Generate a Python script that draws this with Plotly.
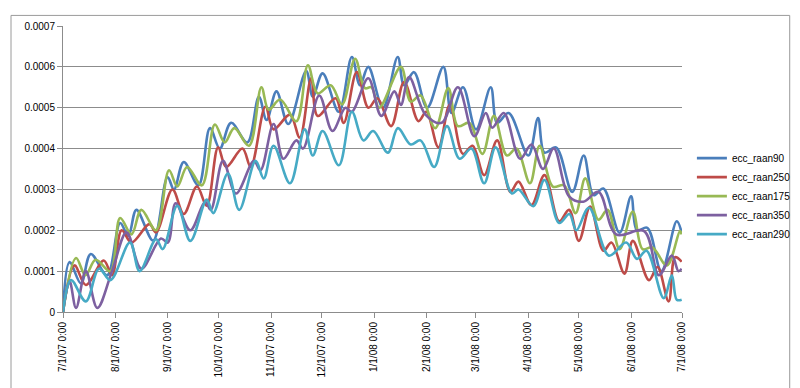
import plotly.graph_objects as go
import pandas as pd

# ---- data (day offsets from 2007-07-01, values in units of 1e-4) ----
blue_days = [0,3.9,10.6,16.4,26.1,33.8,38.6,43.4,53.3,61.8,65.6,71.4,80.1,86.9,92.7,99.4,109,115.8,120.4,126.2,
             133.2,143.8,147.7,153.5,163.1,170.8,175.6,180.5,189.2,197.9,201.7,207.5,215.3,224.9,229.7,236.5,244.2,
             252.9,256.7,263.5,275.1,280.9,284.7,291.5,301.1,307.9,313.7,319.5,329.1,335.9,339.4,345.5,353.8,362.9,365.8]
blue_vals = [0,1.22,0.70,1.42,0.90,2.18,1.86,2.50,1.75,3.30,3.00,3.67,3.10,4.50,4.00,4.63,4.15,5.27,4.70,5.40,
             4.60,5.90,5.27,5.84,4.90,6.24,5.55,6.00,5.00,6.24,5.55,5.87,5.00,6.00,4.87,5.50,4.47,
             5.50,4.63,4.87,3.83,4.75,3.90,4.03,2.94,3.83,2.86,3.02,1.94,2.83,2.00,2.06,1.00,2.22,1.94]

red_days = [0,6.8,13.5,24.1,29,34.7,40.5,51.1,55,64.7,71.4,79.2,85,91.7,96.5,106.1,111,119.7,124.5,134.2,
            140,146.7,150.6,161.2,166,173.7,180.6,185.9,194,201.7,210.2,214.8,222,228.7,236.5,242.2,249,256.7,
            264.5,269.3,277,284.7,293.4,299.2,305,311.7,319.5,324.3,332,336.9,346.5,351.5,358.1,361.9,365.8]
red_vals = [0,1.14,0.66,1.26,0.90,2.00,1.70,2.15,1.95,3.00,2.40,3.07,2.60,4.03,3.55,4.00,3.55,5.03,4.47,4.83,
            4.27,5.72,4.80,5.23,4.63,5.87,5.00,5.23,4.55,5.63,4.67,4.90,4.03,5.07,3.87,4.07,3.35,4.20,
            2.94,3.19,2.62,3.35,2.22,2.50,1.74,2.58,1.50,1.70,0.94,1.74,0.78,1.10,0.26,1.34,1.23]

green_days = [0,7.7,13.3,19.3,28,33.8,40.5,46.3,55,62.7,67.6,73.4,82.1,89.8,95.6,101.3,110,117.3,121.6,128.4,
              138,144.8,150.6,158.3,165,172.7,178.5,182.4,187,199.8,205.6,211.4,220.1,227.8,233.5,240.3,248,
              254.8,262.5,268.1,276.1,281.8,289.6,296.3,303.1,308.8,316.6,322,329.1,336.9,342.7,348.5,357.1,364.8,365.8]
green_vals = [0,1.32,0.90,1.28,1.00,2.30,1.90,2.50,2.00,3.47,3.07,3.55,3.10,4.59,4.15,4.50,4.07,5.50,4.95,5.20,
              4.67,6.04,5.35,5.55,5.08,6.20,5.48,5.50,5.00,6.00,5.15,5.30,4.50,5.48,4.55,4.63,3.87,
              4.80,3.83,4.00,3.15,4.07,3.07,3.10,2.42,3.27,2.26,2.50,1.54,2.46,1.54,1.58,1.14,1.98,1.90]

purple_days = [0,3.9,7.7,13.5,20.3,29,37.6,46.3,57.9,62,66.6,75.3,84,87.4,94.6,102.3,112.9,116.8,124.5,130.3,
               138,141.9,151.5,159.3,167,170.8,180.5,188.2,195.9,199.8,204.6,214.3,223.9,233.5,243.2,250,253.8,
               260.6,270.3,277,283.8,290.2,299.2,307.6,316.6,327.1,343.6,352.3,360,363.9,365.8]
purple_vals = [0,0.75,0.10,1.00,0.10,1.00,1.95,1.06,1.80,1.70,2.66,2.00,2.70,2.50,3.70,2.90,3.70,3.47,4.60,3.75,
               4.20,4.00,5.30,4.43,5.00,4.90,5.72,4.80,5.40,5.07,5.75,4.83,4.63,5.50,4.30,4.87,4.51,
               4.87,3.75,4.10,3.50,4.00,2.83,2.70,2.94,1.90,1.98,0.90,1.38,1.00,1.06]

cyan_days = [0,4.8,13.5,21.3,28,39.6,45.3,55,58.9,67.6,75.3,85,88.8,97.5,104.2,113.9,118.7,124.5,134.2,142.9,
             147.7,153.5,163.1,170.8,177.6,183.4,192.1,198,205.6,211.4,219.5,227,234.5,241.5,249,255.8,265.4,
             269.3,278,284.7,293.4,299.4,303.5,311,322.8,333,339.4,345,355.2,360,362.9,365.8]
cyan_vals = [0,0.78,0.26,1.06,0.78,1.70,1.00,1.78,1.54,2.60,1.74,2.75,2.42,3.39,2.50,3.70,3.27,4.07,3.15,4.47,
             3.83,4.43,3.59,4.90,4.20,4.43,3.90,4.50,4.10,4.20,3.55,4.55,3.75,4.00,3.15,4.03,2.90,
             3.00,2.59,3.23,2.18,2.40,2.00,2.55,1.38,1.70,1.30,1.50,0.34,0.90,0.30,0.30]

series_names = ["ecc_raan90", "ecc_raan250", "ecc_raan175", "ecc_raan350", "ecc_raan290"]
series_colors = ["#4A7EBB", "#BE4B48", "#98B954", "#7D60A0", "#46AAC5"]

x_tick_dates = ["2007-07-01","2007-08-01","2007-09-01","2007-10-01","2007-11-01","2007-12-01","2008-01-01",
                "2008-02-01","2008-03-01","2008-04-01","2008-05-01","2008-06-01","2008-07-01"]
x_tick_labels = ["7/1/07 0:00","8/1/07 0:00","9/1/07 0:00","10/1/07 0:00","11/1/07 0:00","12/1/07 0:00",
                 "1/1/08 0:00","2/1/08 0:00","3/1/08 0:00","4/1/08 0:00","5/1/08 0:00","6/1/08 0:00","7/1/08 0:00"]
y_tick_vals = [0, 0.0001, 0.0002, 0.0003, 0.0004, 0.0005, 0.0006, 0.0007]
y_tick_labels = ["0", "0.0001", "0.0002", "0.0003", "0.0004", "0.0005", "0.0006", "0.0007"]

base = pd.Timestamp("2007-07-01")
all_days = [blue_days, red_days, green_days, purple_days, cyan_days]
all_vals = [blue_vals, red_vals, green_vals, purple_vals, cyan_vals]

fig = go.Figure()
for name, color, d, v in zip(series_names, series_colors, all_days, all_vals):
    xs = [base + pd.Timedelta(days=t) for t in d]
    ys = [val * 1e-4 for val in v]
    fig.add_trace(go.Scatter(x=xs, y=ys, mode="lines", name=name,
                             line=dict(color=color, width=2.6, shape="spline", smoothing=1.0)))

grid = "#8C8C8C"
fig.update_layout(
    width=800, height=388,
    margin=dict(l=55, r=113, t=13, b=84),
    paper_bgcolor="white", plot_bgcolor="white",
    font=dict(family="Liberation Sans, Arial, sans-serif", size=10, color="#000000"),
    showlegend=True,
    legend=dict(x=1.016, y=0.405, xanchor="left", yanchor="middle",
                font=dict(size=10, color="#000000"), itemwidth=30,
                bgcolor="rgba(0,0,0,0)", tracegroupgap=0),
    xaxis=dict(type="date", range=["2007-07-01", "2008-07-01"],
               tickvals=x_tick_dates, ticktext=x_tick_labels, tickangle=-90,
               showgrid=False, zeroline=False, showline=True, linecolor=grid, linewidth=1,
               ticks="outside", ticklen=5, tickcolor=grid, tickfont=dict(size=10)),
    yaxis=dict(range=[0, 0.0007], tickvals=y_tick_vals, ticktext=y_tick_labels,
               showgrid=True, gridcolor=grid, gridwidth=1, zeroline=False,
               showline=True, linecolor=grid, linewidth=1,
               ticks="outside", ticklen=5, tickcolor=grid, tickfont=dict(size=10)),
)

fig.add_shape(type="rect", xref="paper", yref="paper",
              x0=-0.084, x1=1.174, y0=-0.276, y1=1.037,
              line=dict(color="#9A9A9A", width=1), fillcolor="rgba(0,0,0,0)", layer="below")

fig.write_html("out.html")
